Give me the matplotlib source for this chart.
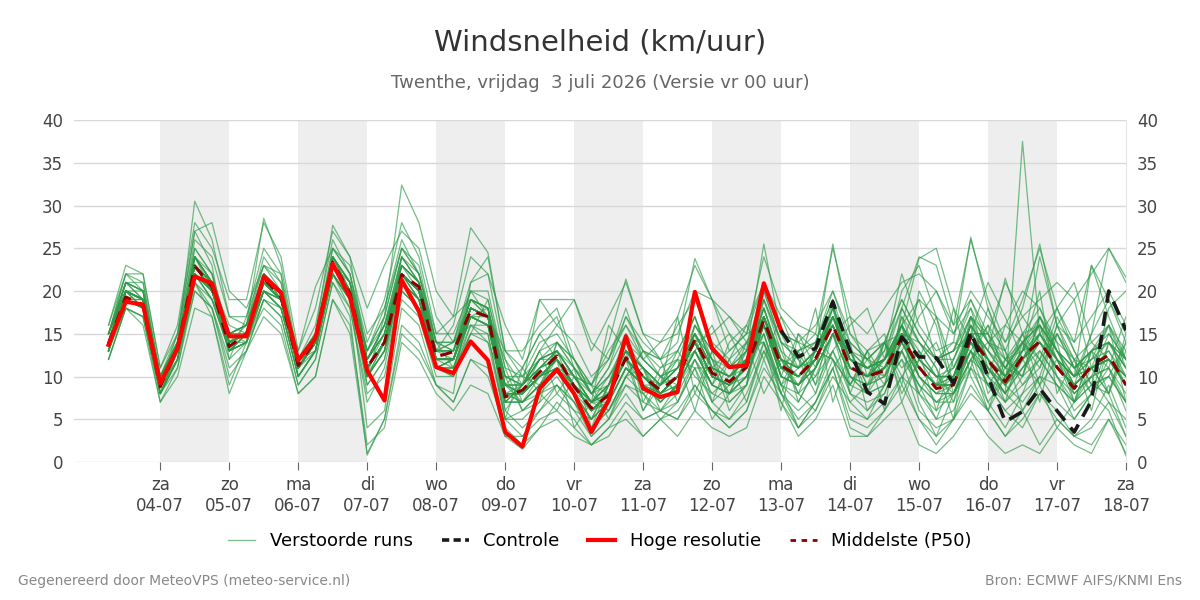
import numpy as np
import pandas as pd
import matplotlib
matplotlib.use("Agg")
import matplotlib.pyplot as plt
from matplotlib.lines import Line2D

# 6-hourly steps, starting 03-07 06 UTC
times = pd.date_range("2026-07-03 06:00", periods=60, freq="6h")

hres = [13.7, 18.75, 18.4, 9.2, 13.3, 21.7, 20.9, 14.7, 14.7, 21.7, 19.8, 11.9, 14.5, 23.2, 19.3, 10.7,
        7.2, 21.3, 17.6, 11.1, 10.4, 14.1, 11.9, 3.5, 1.8, 8.6, 10.8, 8.0, 3.5, 7.2, 14.7, 8.6, 7.6, 8.2,
        19.9, 13.3, 11.1, 11.3, 20.9, 15.4]

# control run is shown from 13-07 00 UTC onward (index 39)
control = [15.4, 12.3, 13.3, 18.75, 13.0, 8.2, 6.8, 14.6, 12.3, 12.2, 9.2, 15.2, 10.0, 4.7, 5.9, 8.6,
           6.0, 3.5, 7.2, 20.0, 15.4]

p50 = [13.9, 19.3, 18.4, 8.8, 13.3, 22.9, 20.5, 13.5, 15.0, 21.5, 19.3, 11.3, 14.3, 23.4, 19.7, 11.1,
       14.0, 21.9, 20.5, 12.3, 12.9, 17.7, 17.0, 7.6, 8.4, 10.5, 12.4, 8.8, 6.3, 7.8, 12.2, 10.0, 8.4,
       10.0, 14.3, 10.4, 9.4, 11.1, 16.6, 11.3, 10.0, 12.1, 16.0, 11.1, 10.0, 10.7, 14.6, 11.1, 8.6, 9.0,
       14.6, 11.9, 9.4, 12.3, 14.1, 11.1, 8.6, 11.3, 12.5, 9.0]

runs = [
    [14,20,20,10,13,25,22,13,15,22,20,11,14,24,21,10,13,24,21,11,12,19,18,7,9,12,13,8,5,9,14,11,7,9,15,12,6,9,20,14,7,11,19,8,13,6,18,14,11,5,17,15,9,13,20,8,12,6,14,11],
    [13,19,18,8,12,22,19,15,16,20,19,12,15,22,19,12,16,21,19,13,14,17,16,9,7,9,11,10,7,7,11,9,9,11,13,9,14,16,12,17,12,8,15,17,10,14,9,20,16,8,11,18,13,6,10,16,19,11,8,14],
    [15,21,19,9,14,30.5,26,17,16,24,21,12,14,25,22,13,17,25,23,14,11,15,19,11,6,8,14,12,8,6,10,13,10,8,16,13,7,9,19,14,12,10,15,13,12,9,17,14,11,7,15,15,11,10,17,14,7,10,15,12],
    [12,18,17,7,11,20,18,11,13,19,17,9,12,21,18,8,10,19,17,10,10,15,14,5,5,7,9,7,4,6,10,8,6,8,12,8,7,9,14,9,8,10,13,9,8,9,12,9,7,7,12,10,7,10,12,9,7,9,10,7],
    [14,21,21,10,15,27,23,12,17,25,22,10,13,23,20,4,6,18,16,9,8,21,24,13,11,15,17,11,9,13,16,12,10,9,12,7,5,8,13,9,7,11,15,8,6,8,13,9,5,6,11,9,6,8,13,10,6,8,11,6],
    [16,22,20,10,14,24,20,15,14,20,18,12,16,26,22,14,19,28,24,15,15,20,17,6,4,6,9,7,3,5,9,8,5,7,11,11,13,15,21,15,14,16,20,15,13,14,19,15,12,13,18,14,11,14,17,13,11,13,14,12],
    [13,19,19,9,12,23,21,16,15,21,20,12,13,22,19,10,17,32.4,28,20,17,19,17,9,8,12,12,9,6,8,12,10,8,10,14,10,9,11,16,11,10,12,16,11,10,11,15,11,9,9,14,11,8,11,14,11,9,11,12,9],
    [15,20,19,9,13,22,20,14,14,21,19,11,14,23,20,11,14,22,20,12,12,18,17,10,6,7,14,12,9,5,10,13,12,7,12,9,12,7,14,8,13,9,17,13,8,14,10,13,6,12,16,8,11,14,7,15,11,8,14,10],
    [12,18,17,8,11,21,17,9,14,18,16,8,10,19,16,2,4,14,12,8,6,9,8,3,3,5,6,4,2,3,6,3,5,3,6,4,3,4,10,7,3,5,9,3,3,5,7,2,1,3,6,3,1,2,1,4,2,1,5,1],
    [16,23,22,11,16,28,25,19,19,28,24,13,18,27,24,18,23,27,25,17,14,16,14,9,8,11,13,10,7,9,13,11,9,11,15,12,10,11,17,13,11,12,17,12,11,12,16,13,10,10,16,12,10,13,15,12,10,12,13,10],
    [14,20,19,9,13,23,20,14,15,21,19,11,14,23,20,12,15,22,20,13,14,21,22,16,12,19,19,19,13,17,21,15,14,17,23,19,17,15,24,18,16,15,25,17,15,18,21,22,20,16,26,19,14,19,25,18,14,17,20,16],
    [12,18,16,7,10,18,17,8,13,17,15,8,10,19,15,1,5,15,13,9,7,12,10,4,2,4,5,3,2,4,5,3,5,6,9,6,4,6,11,8,5,7,12,6,5,7,10,8,6,8,12,14,16,20,18,13,9,11,13,9],
    [15,22,21,10,14,26,24,17,17,23,22,12,15,24,21,13,18,26,22,14,13,17,16,10,9,13,14,11,8,11,15,12,10,11,16,13,11,12,19,14,12,14,19,13,11,13,18,14,12,12,17,14,11,14,16,13,11,13,15,12],
    [13,18,17,8,12,21,18,12,14,19,18,10,13,22,18,7,11,20,18,11,10,15,15,5,6,8,10,7,4,6,9,7,6,7,11,5,8,12,15,9,4,7,11,14,6,9,16,7,3,8,12,6,10,15,9,4,7,13,8,3],
    [14,21,20,9,15,25,22,15,16,23,21,12,15,25,22,12,16,24,21,13,13,20,20,11,10,14,15,12,9,12,16,13,11,13,17,12,11,13,20,14,13,14,20,14,12,14,19,15,12,13,19,15,12,15,18,14,12,14,16,13],
    [13,20,18,9,13,24,21,13,14,22,19,11,14,23,20,9,12,22,20,13,16,24,22,12,7,8,9,6,5,9,14,8,9,13,10,8,10,13,14,9,13,15,12,9,12,14,11,13,10,8,12,16,13,9,11,15,12,8,10,14],
    [14,19,19,8,13,22,20,14,15,20,19,11,14,22,19,11,14,21,19,11,12,17,16,7,9,11,12,8,7,6,10,11,6,9,16,12,8,9,17,12,8,13,18,10,8,11,16,10,7,9,17,12,7,14,16,10,7,13,11,7],
    [15,20,18,9,14,23,21,14,15,21,20,11,15,23,21,11,14,23,21,12,12,17,18,8,7,9,13,10,7,9,13,10,9,12,17,11,8,12,17,10,9,11,15,12,11,10,14,10,8,10,15,11,8,12,15,12,10,11,12,10],
    [13,20,19,9,13,24,21,14,15,22,20,12,14,24,20,10,13,22,19,11,12,18,17,8,8,10,11,8,6,7,11,9,8,9,13,16,11,13,21,17,14,9,13,16,18,12,20,23,17,11,15,21,17,12,16,13,9,15,19,15],
    [14,19,18,9,13,22,20,13,15,20,19,11,13,23,19,12,16,23,21,14,14,19,17,9,9,13,16,14,10,12,17,14,12,13,17,11,10,12,16,12,11,13,17,12,11,12,15,11,9,11,15,12,9,12,14,11,9,11,12,9],
    [14,20,19,9,14,23,20,14,15,21,19,11,14,23,20,11,14,22,20,12,12,18,17,8,8,10,12,9,6,8,12,10,8,10,14,15,17,14,19,13,8,6,10,7,5,9,13,17,20,15,18,11,9,7,10,9,5,8,12,10],
    [14,20,19,9,13,23,21,14,15,21,19,11,14,23,20,11,14,22,20,12,12,18,17,8,8,10,12,9,6,8,12,10,8,10,14,10,9,11,17,11,10,12,16,11,10,11,15,11,9,9,14,9,6,4,8,6,3,5,9,4],
    [13,19,18,8,13,22,20,13,14,21,19,11,14,22,19,10,14,22,19,12,11,17,16,7,7,9,11,8,5,7,11,9,7,9,13,9,8,10,16,10,9,11,15,10,9,10,14,10,8,8,13,10,8,37.5,15,12,8,10,11,8],
    [15,21,20,10,14,24,22,15,16,22,20,12,15,24,21,12,16,24,21,14,13,19,18,10,9,12,13,10,8,10,13,11,9,11,15,11,10,12,18,12,11,13,17,12,11,12,16,23.8,25,18,14,12,10,13,24,16,11,13,16,12],
    [14,20,19,9,13,23,21,15,15,21,20,11,14,24,20,13,17,25,22,13,13,19,18,10,9,12,13,11,8,9,12,10,8,10,13,10,9,11,18,12,10,13,18,12,10,12,16,12,10,11,16,13,10,13,17,13,10,13,14,11],
    [14,20,19,9,13,22,20,13,15,21,19,11,14,22,19,10,14,21,19,12,12,17,17,8,8,10,11,9,7,8,12,10,8,10,14,11,10,12,17,12,11,13,16,12,11,12,16,19,17,15,20,17,14,17,19,21,19,22,25,21],
    [13,19,18,8,13,22,20,14,15,20,19,11,14,23,20,11,14,22,20,12,12,17,16,8,7,10,12,9,6,8,12,9,8,10,14,10,9,10,16,10,9,11,15,10,8,9,12,6,4,5,8,6,3,6,2,5,3,2,5,2],
    [15,20,19,10,14,23,21,15,15,22,20,12,14,24,21,13,16,22,19,11,12,19,18,9,8,11,12,9,7,8,12,10,8,10,15,7,12,14,17,10,15,11,18,13,9,12,14,19,12,13,17,10,16,14,11,17,13,9,18,20],
    [14,19,18,9,13,23,20,14,15,21,19,11,14,23,20,10,13,20,18,11,11,16,16,9,11,8,6,10,9,8,12,6,10,12,11,7,9,14,8,12,9,13,12,7,9,11,13,8,5,10,13,11,8,6,9,12,8,10,7,5],
    [13,20,19,9,13,24,21,14,15,22,20,11,14,24,20,11,14,22,20,12,12,18,17,5,11,15,12,4,7,16,13,6,9,17,8,13,11,14,14,6,15,13,12,9,13,15,7,12,9,18,10,6,12,10,17,12,7,11,16,7],
    [14,20,19,9,13,23,20,14,15,21,19,11,14,23,20,11,14,22,20,12,12,18,17,6,9,19,16,19,14,12,18,12,14,15,20,19,13,15,16,11,13,14,19,9,13,10,17,12,14,9,13,16,10,14,12,15,11,12,16,11],
    [14,20,19,9,13,23,20,14,15,21,19,11,14,23,20,11,14,22,20,12,12,18,17,13,13,16,18,12,8,11,17,13,12,16,19,14,12,16,21,15,14,13,18,14,12,14,15,14,12,13,15,13,11,15,16,13,10,12,14,11],
    [13,19,18,8,12,21,19,13,14,20,18,10,13,22,19,9,12,20,18,11,10,16,15,5,3,6,8,6,3,5,8,5,6,5,8,6,4,6,12,7,4,7,11,5,4,6,9,5,3,5,9,6,3,5,8,5,3,4,7,3],
    [15,21,20,10,14,24,21,15,16,22,20,12,15,24,21,12,15,23,21,13,13,19,18,9,9,11,13,10,7,9,13,11,9,11,15,11,10,12,17,12,10,12,17,11,10,11,14,11,9,10,14,11,9,11,14,11,9,11,12,9],
    [14,20,19,9,13,23,20,14,15,21,19,11,14,23,20,11,14,22,20,12,12,18,17,12,9,13,8,11,4,9,15,7,11,12,6,13,15,11,15,9,11,18,7,13,9,14,8,12,17,9,13,7,10,12,9,16,12,11,8,15],
    [13,20,18,9,13,23,20,13,15,21,19,11,14,23,20,11,14,23,21,13,12,18,17,8,9,12,13,10,7,8,13,11,9,10,14,10,9,11,16,11,9,12,17,13,11,12,18,24,23,16,19,14,12,14,16,13,11,13,14,12],
    [14,20,19,9,13,23,20,14,15,22,20,11,14,23,20,11,14,22,20,12,12,18,17,8,8,10,11,9,6,8,12,10,8,10,14,10,9,11,17,11,10,12,16,11,10,12,16,12,10,10,16,13,21.5,15,12,18,21,14,12,10],
    [15,21,20,10,14,24,21,15,16,22,20,12,15,24,21,12,15,23,21,13,13,19,18,9,9,11,13,10,7,9,13,11,9,11,15,11,10,12,18,12,11,13,17,12,11,12,16,12,10,10,16,13,10,13,16,12,10,23,17,12],
    [13,19,18,8,12,22,19,13,14,20,18,10,13,22,19,10,13,21,19,11,11,17,16,7,7,9,11,8,5,7,11,9,7,9,13,9,8,10,16,10,9,11,15,10,9,10,14,10,8,8,14,11,8,11,13,10,8,10,11,17],
    [14,21,19,9,14,23,21,14,15,22,19,11,14,23,20,11,14,22,20,12,12,18,17,8,8,10,12,9,6,8,12,10,8,10,14,10,9,11,17,11,10,12,16,11,10,11,15,8,12,14,13,9,12,10,15,18,13,9,8,13],
    [14,20,19,9,13,24,21,14,16,28.5,23,12,15,27.7,24,12,15,23,20,12,12,18,17,7,9,11,12,9,7,9,13,11,8,9,13,9,8,10,16,10,9,12,17,12,10,12,15,10,8,9,14,12,9,12,15,12,9,11,12,9],
    [15,22,22,11,15,27,28,20,18,23,20,13,20.5,25,23,15,18,25,22,14,14,20,19,10,10,12,14,11,8,10,14,12,10,11,15,11,10,12,18,12,11,13,17,12,11,12,16,12,10,10,15,12,10,12,15,12,10,11,12,10],
    [14,20,19,9,13,23,20,14,15,21,19,11,14,23,20,11,15,24,22,15,17,27.4,24.5,13,10,9,12,9,7,10,13,10,8,10,14,10,9,11,17,11,10,12,17,11,10,11,15,11,9,10,15,12,9,12,15,11,9,11,12,9],
    [14,20,19,9,13,23,20,14,15,21,19,11,14,23,20,11,14,22,20,12,12,18,17,8,8,10,12,10,9,14,21.4,15,12,14,23.8,19,15,13,17,11,10,12,16,11,10,11,15,11,9,9,15,12,9,12,14,11,9,11,12,9],
    [14,20,19,9,13,23,20,14,15,21,19,11,14,23,20,11,14,22,20,12,12,18,17,8,8,10,12,9,6,8,12,10,8,10,14,10,9,13,25.5,15,11,13,25.5,15,12,11,15,11,9,9,15,12,9,12,14,11,9,11,12,9],
    [14,20,19,9,13,23,20,14,15,21,19,11,14,23,20,11,14,22,20,12,12,18,17,8,8,10,12,9,6,8,12,10,8,10,14,10,9,11,17,11,10,12,16,11,10,13,22,16,13,14,26.3,18,12,13,14,11,9,11,12,9],
    [13,19,18,8,12,20,18,10,13,19,17,9,12,21,17,0.8,5,16,14,9,7,12,11,3,1.5,4,7,5,2,4,7,5,6,5,9,6,5,7,13,8,6,8,13,8,7,8,13,9,7,8,13,9,7,9,12,9,7,9,10,7],
    [14,20,19,9,13,23,20,14,15,21,19,11,14,23,20,11,14,22,20,12,12,18,17,8,8,10,12,9,6,8,12,10,8,10,14,10,9,11,17,11,10,12,16,11,10,11,15,11,9,12,17,14,13,18,25.5,16,14,23,19,14],
    [14,20,19,9,13,23,20,14,15,21,19,11,14,23,20,11,14,22,20,12,12,18,17,8,8,10,12,9,6,8,12,10,8,10,14,10,9,11,17,11,10,12,16,11,10,11,15,11,9,9,15,15,21,17,14,12,10,15,25,21.6],
    [13,19,18,8,12,22,19,13,14,20,18,10,13,22,19,10,13,21,19,11,11,17,16,7,7,9,11,8,5,7,11,9,7,9,13,9,8,10,15,8,4,6,11,4,3,6,10,5,2,5,11,7,4,8,10,7,5,8,6,0.7],
]

bad = [k for k, r in enumerate(runs) if len(r) != len(times)]
assert not bad, "wrong length rows: %s" % [(k, len(runs[k])) for k in bad]

day_names = ["za", "zo", "ma", "di", "wo", "do", "vr", "za", "zo", "ma", "di", "wo", "do", "vr", "za"]
day_ticks = pd.date_range("2026-07-04", "2026-07-18", freq="D")

fig = plt.figure(figsize=(12, 6), dpi=100)
ax = fig.add_axes([0.0617, 0.23, 0.8766, 0.57])

# grey bands on alternate days
for d in day_ticks[::2][:-1]:
    ax.axvspan(d, d + pd.Timedelta(days=1), color="#eeeeee", lw=0, zorder=0)

for r in runs:
    ax.plot(times, r, color="#2e9a48", lw=0.9, alpha=0.65, zorder=2)

ax.plot(times, p50, color="#8b0000", lw=2.2, ls=(0, (4, 3)), zorder=4)
ax.plot(times[:len(hres)], hres, color="#ff0000", lw=3, zorder=5)
ax.plot(times[len(hres) - 1:], control, color="#1a1a1a", lw=2.6, ls=(0, (4, 2.5)), zorder=5)

ax.set_xlim(times[0] - pd.Timedelta(hours=12), times[-1])
ax.set_ylim(0, 40)
ax.set_yticks(range(0, 41, 5))
ax.grid(axis="y", color="#d8d8d8", lw=1)
ax.set_axisbelow(True)
ax.set_xticks(day_ticks)
ax.set_xticklabels([f"{n}\n{d:%d-%m}" for n, d in zip(day_names, day_ticks)])
ax.tick_params(axis="x", length=6, color="#666666", labelcolor="#444444", labelsize=12, pad=4)
ax.tick_params(axis="y", length=0, labelcolor="#444444", labelsize=12, labelright=True, pad=8)
for s in ["top", "left", "bottom"]:
    ax.spines[s].set_visible(False)
ax.spines["right"].set_color("#e6e6e6")

fig.text(0.5, 0.93, "Windsnelheid (km/uur)", ha="center", va="center", fontsize=21, color="#333333")
fig.text(0.5, 0.861, "Twenthe, vrijdag  3 juli 2026 (Versie vr 00 uur)", ha="center", va="center",
         fontsize=13, color="#666666")
fig.text(0.015, 0.032, "Gegenereerd door MeteoVPS (meteo-service.nl)", ha="left", va="center",
         fontsize=10, color="#888888")
fig.text(0.985, 0.032, "Bron: ECMWF AIFS/KNMI Ens", ha="right", va="center", fontsize=10, color="#888888")

handles = [
    Line2D([], [], color="#2e9a48", lw=1, alpha=0.6),
    Line2D([], [], color="#1a1a1a", lw=2.6, ls=(0, (2, 1.2))),
    Line2D([], [], color="#ff0000", lw=3),
    Line2D([], [], color="#8b0000", lw=2, ls=(0, (2, 2))),
]
fig.legend(handles, ["Verstoorde runs", "Controle", "Hoge resolutie", "Middelste (P50)"],
           loc="center", bbox_to_anchor=(0.5, 0.098), ncol=4, frameon=False, fontsize=13,
           handlelength=1.5, handletextpad=0.8, columnspacing=1.6)

fig.savefig("out.png", dpi=100)
